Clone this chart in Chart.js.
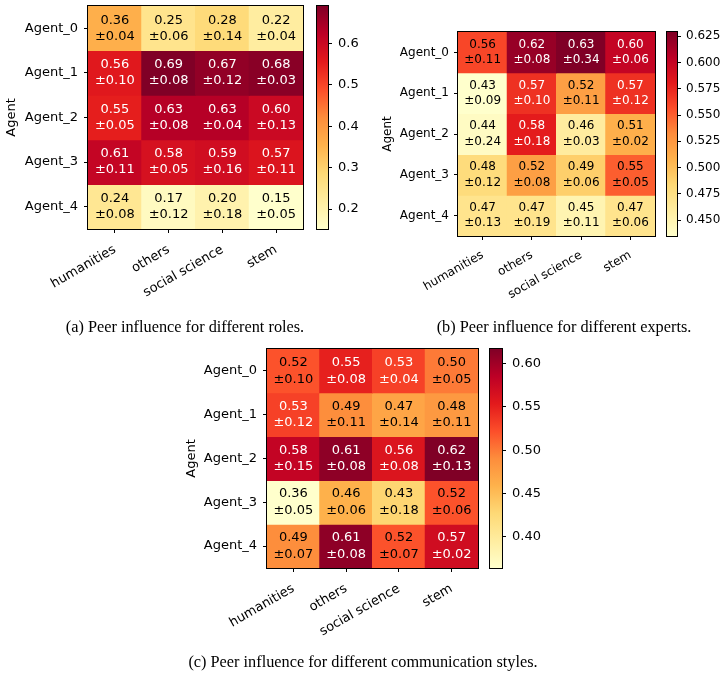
<!DOCTYPE html>
<html><head><meta charset="utf-8">
<script src="https://cdn.jsdelivr.net/npm/chart.js@4.4.0/dist/chart.umd.min.js"></script>
<style>
html,body{margin:0;padding:0;background:#fff;}
body{width:727px;height:678px;position:relative;overflow:hidden;}
canvas{position:absolute;}
.cap{position:absolute;font-family:'Liberation Serif','Times New Roman',serif;font-size:16.3px;line-height:20px;white-space:nowrap;color:#000;transform:translateX(-50%);}
</style></head><body>
<script>
// ---------------- data ----------------
const categories = ['humanities', 'others', 'social science', 'stem'];
const agents = ['Agent_0', 'Agent_1', 'Agent_2', 'Agent_3', 'Agent_4'];

const rolesMean = [
  [0.36, 0.25, 0.28, 0.22],
  [0.56, 0.69, 0.67, 0.68],
  [0.55, 0.63, 0.63, 0.60],
  [0.61, 0.58, 0.59, 0.57],
  [0.24, 0.17, 0.20, 0.15]];
const rolesStd = [
  [0.04, 0.06, 0.14, 0.04],
  [0.10, 0.08, 0.12, 0.03],
  [0.05, 0.08, 0.04, 0.13],
  [0.11, 0.05, 0.16, 0.11],
  [0.08, 0.12, 0.18, 0.05]];

const expertsMean = [
  [0.56, 0.62, 0.63, 0.60],
  [0.43, 0.57, 0.52, 0.57],
  [0.44, 0.58, 0.46, 0.51],
  [0.48, 0.52, 0.49, 0.55],
  [0.47, 0.47, 0.45, 0.47]];
const expertsStd = [
  [0.11, 0.08, 0.34, 0.06],
  [0.09, 0.10, 0.11, 0.12],
  [0.24, 0.18, 0.03, 0.02],
  [0.12, 0.08, 0.06, 0.05],
  [0.13, 0.19, 0.11, 0.06]];

const stylesMean = [
  [0.52, 0.55, 0.53, 0.50],
  [0.53, 0.49, 0.47, 0.48],
  [0.58, 0.61, 0.56, 0.62],
  [0.36, 0.46, 0.43, 0.52],
  [0.49, 0.61, 0.52, 0.57]];
const stylesStd = [
  [0.10, 0.08, 0.04, 0.05],
  [0.12, 0.11, 0.14, 0.11],
  [0.15, 0.08, 0.08, 0.13],
  [0.05, 0.06, 0.18, 0.06],
  [0.07, 0.08, 0.07, 0.02]];

// colour-bar ranges and tick labels
const rolesRange = [0.152, 0.690];
const expertsRange = [0.435, 0.629];
const stylesRange = [0.364, 0.617];
const rolesTicks = ['0.2', '0.3', '0.4', '0.5', '0.6'];
const expertsTicks = ['0.450', '0.475', '0.500', '0.525', '0.550', '0.575', '0.600', '0.625'];
const stylesTicks = ['0.40', '0.45', '0.50', '0.55', '0.60'];

const captions = [
  '(a) Peer influence for different roles.',
  '(b) Peer influence for different experts.',
  '(c) Peer influence for different communication styles.'];

// ---------------- helpers ----------------
const FONT = "'DejaVu Sans', sans-serif";
Chart.defaults.color = '#000';
Chart.defaults.font.family = FONT;

const YLORRD = [[255,255,204],[255,237,160],[254,217,118],[254,178,76],[253,141,60],[252,78,42],[227,26,28],[189,0,38],[128,0,38]];
function cmap(t) {
  t = Math.min(1, Math.max(0, t));
  const x = t * 8, i = Math.min(7, Math.floor(x)), f = x - i;
  const a = YLORRD[i], b = YLORRD[i + 1];
  return 'rgb(' + a.map((v, k) => Math.round(v + (b[k] - v) * f)).join(',') + ')';
}

function makeCanvas(left, top, w, h) {
  const c = document.createElement('canvas');
  c.width = w; c.height = h;
  c.style.left = left + 'px'; c.style.top = top + 'px';
  c.style.width = w + 'px'; c.style.height = h + 'px';
  document.body.appendChild(c);
  return c.getContext('2d');
}

const framePlugin = {
  id: 'frame',
  afterDraw(chart) {
    const ca = chart.chartArea, ctx = chart.ctx;
    ctx.save();
    ctx.strokeStyle = '#000'; ctx.lineWidth = 1;
    const l = Math.round(ca.left) - 0.5, t = Math.round(ca.top) - 0.5;
    const r = Math.round(ca.right) + 0.5, b = Math.round(ca.bottom) + 0.5;
    ctx.strokeRect(l, t, r - l, b - t);
    ctx.restore();
  }
};

function zeroPad(s) { s.paddingTop = 0; s.paddingBottom = 0; s.paddingLeft = 0; s.paddingRight = 0; }

function heatmap(mean, std, range, g) {
  const norm = v => (v - range[0]) / (range[1] - range[0]);
  const cvLeft = g.cvLeft, cvTop = g.cvTop;
  const cvW = g.right + 6 - cvLeft, cvH = g.bottom + 90 - cvTop;
  const ctx = makeCanvas(cvLeft, cvTop, cvW, cvH);
  const font = { family: FONT, size: g.fs };
  const lh = g.fs * 1.2;
  const datasets = agents.map((a, r) => ({
    label: a,
    data: categories.map(() => [r - 0.5, r + 0.5]),
    backgroundColor: mean[r].map(v => cmap(norm(v))),
    borderWidth: 0,
    inflateAmount: 0.5,
    grouped: false,
    barPercentage: 1,
    categoryPercentage: 1
  }));
  const labelPlugin = {
    id: 'cellLabels',
    afterDatasetsDraw(chart) {
      const c = chart.ctx;
      c.save();
      c.font = g.fs + 'px ' + FONT;
      c.textAlign = 'center';
      c.textBaseline = 'middle';
      agents.forEach((a, r) => {
        chart.getDatasetMeta(r).data.forEach((el, k) => {
          const cx = el.x, cy = (el.y + el.base) / 2;
          c.fillStyle = norm(mean[r][k]) > 0.65 ? '#fff' : '#000';
          c.fillText(mean[r][k].toFixed(2), cx, cy - g.dy);
          c.fillText('\u00b1' + std[r][k].toFixed(2), cx, cy + g.dy);
        });
      });
      c.restore();
    }
  };
  new Chart(ctx, {
    type: 'bar',
    data: { labels: categories, datasets },
    plugins: [labelPlugin, framePlugin],
    options: {
      responsive: false, animation: false, events: [],
      layout: { padding: { left: 0, top: g.top - cvTop, right: cvLeft + cvW - g.right, bottom: 0 } },
      plugins: { legend: { display: false }, tooltip: { enabled: false } },
      scales: {
        x: {
          type: 'category', offset: true,
          grid: { display: true, drawOnChartArea: false, drawTicks: true, tickLength: 4, color: '#000', offset: false },
          border: { display: false },
          ticks: { autoSkip: false, maxRotation: 30, minRotation: 30, padding: g.xpad, font, color: '#000' },
          afterFit(s) { s.height = cvTop + cvH - g.bottom; zeroPad(s); }
        },
        y: {
          type: 'linear', min: -0.5, max: 4.5, reverse: true,
          afterBuildTicks(s) { s.ticks = agents.map((_, i) => ({ value: i })); },
          grid: { display: true, drawOnChartArea: false, drawTicks: true, tickLength: 4, color: '#000' },
          border: { display: false },
          ticks: { callback: v => agents[v], padding: g.gap - 4, font, color: '#000' },
          title: { display: true, text: 'Agent', font, color: '#000', padding: { top: g.titleX - cvLeft - lh / 2, bottom: 0 } },
          afterFit(s) { s.width = g.left - cvLeft; zeroPad(s); }
        }
      }
    }
  });
}

function colorbar(range, ticks, g) {
  const cvLeft = g.cbL - 4, cvTop = g.top - 10;
  const cvW = 62, cvH = g.bottom - g.top + 20;
  const ctx = makeCanvas(cvLeft, cvTop, cvW, cvH);
  const font = { family: FONT, size: g.fs };
  new Chart(ctx, {
    type: 'bar',
    data: {
      labels: [''],
      datasets: [{
        data: [range],
        backgroundColor(c) {
          const ca = c.chart.chartArea;
          if (!ca) return 'transparent';
          const gr = c.chart.ctx.createLinearGradient(0, ca.bottom, 0, ca.top);
          YLORRD.forEach((col, i) => gr.addColorStop(i / 8, 'rgb(' + col.join(',') + ')'));
          return gr;
        },
        borderWidth: 0, inflateAmount: 0, barPercentage: 1, categoryPercentage: 1
      }]
    },
    plugins: [framePlugin],
    options: {
      responsive: false, animation: false, events: [],
      layout: { padding: { left: 4, top: 10, bottom: 10, right: 0 } },
      plugins: { legend: { display: false }, tooltip: { enabled: false } },
      scales: {
        x: { display: false },
        y: {
          position: 'right', min: range[0], max: range[1],
          afterBuildTicks(s) { s.ticks = ticks.map(t => ({ value: parseFloat(t) })); },
          grid: { display: true, drawOnChartArea: false, drawTicks: true, tickLength: 4, color: '#000' },
          border: { display: false },
          ticks: { callback: (v, i) => ticks[i], padding: g.cbPad, font, color: '#000' },
          afterFit(s) { s.width = cvLeft + cvW - g.cbR; zeroPad(s); }
        }
      }
    }
  });
}

function caption(text, cx, top) {
  const d = document.createElement('div');
  d.className = 'cap'; d.textContent = text;
  d.style.left = cx + 'px'; d.style.top = top + 'px';
  document.body.appendChild(d);
}

// ---------------- panels ----------------
const gA = { cvLeft: 0, cvTop: 0, left: 88, top: 6, right: 303, bottom: 229, fs: 13, titleX: 12, gap: 10, xpad: 9, dy: 8, cbL: 317, cbR: 328, cbPad: 6 };
const gB = { cvLeft: 370, cvTop: 0, left: 458, top: 32, right: 655, bottom: 236, fs: 12, titleX: 388, gap: 9, xpad: 8, dy: 7.7, cbL: 667, cbR: 677, cbPad: 5 };
const gC = { cvLeft: 180, cvTop: 330, left: 267, top: 349, right: 478, bottom: 568, fs: 13, titleX: 192, gap: 10, xpad: 9, dy: 8.3, cbL: 490, cbR: 502, cbPad: 6 };

heatmap(rolesMean, rolesStd, rolesRange, gA);
colorbar(rolesRange, rolesTicks, gA);
heatmap(expertsMean, expertsStd, expertsRange, gB);
colorbar(expertsRange, expertsTicks, gB);
heatmap(stylesMean, stylesStd, stylesRange, gC);
colorbar(stylesRange, stylesTicks, gC);

caption(captions[0], 185, 317);
caption(captions[1], 564, 317);
caption(captions[2], 363, 652);
</script>
</body></html>
